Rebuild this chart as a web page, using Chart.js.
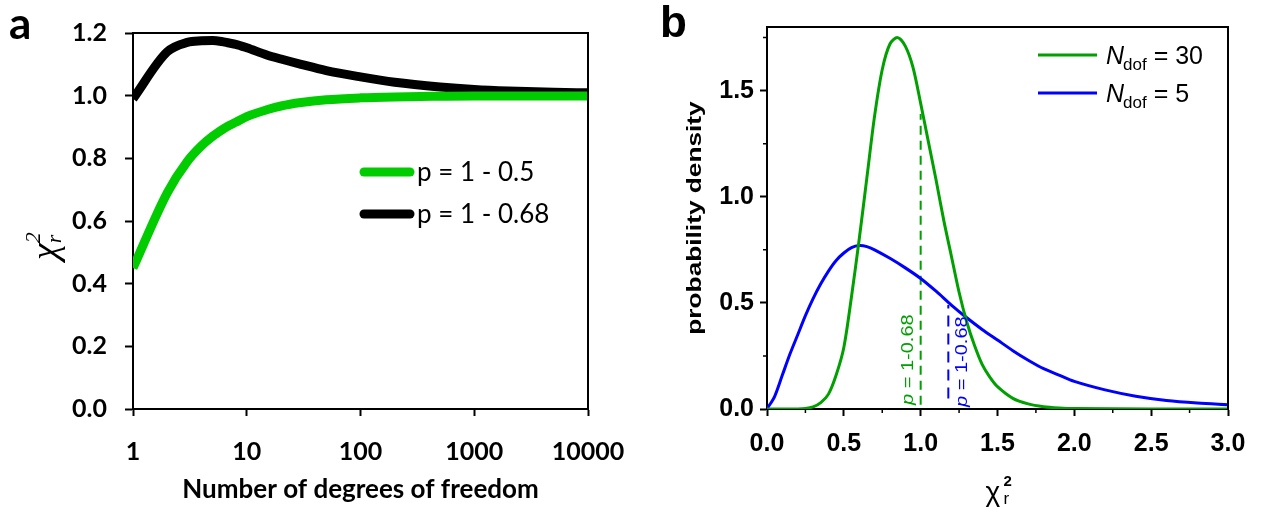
<!DOCTYPE html>
<html>
<head>
<meta charset="utf-8">
<script src="https://cdn.jsdelivr.net/npm/chart.js@4.4.0/dist/chart.umd.min.js"></script>
<style>
  body { margin: 0; background: #fff; width: 1264px; height: 509px; position: relative; overflow: hidden; }
  .panel { position: absolute; top: 0; height: 509px; }
  #wrapA { left: 0; width: 670px; }
  #wrapB { left: 640px; width: 624px; }
</style>
</head>
<body>
<div class="panel" id="wrapA"><canvas id="chartA"></canvas></div>
<div class="panel" id="wrapB"><canvas id="chartB"></canvas></div>
<script>
// --- data, panel a: reduced chi-square vs. degrees of freedom ---
const dofValues = [1, 2, 3, 4, 5, 6, 7, 8, 10, 15, 20, 30, 50, 100, 200, 500, 1000, 2000, 5000, 10000];
const chiHalf   = [0.45, 0.69, 0.79, 0.84, 0.87, 0.89, 0.905, 0.915, 0.933, 0.955, 0.967, 0.978, 0.987, 0.993, 0.996, 0.998, 0.999, 0.999, 0.999, 0.999];
const chi68     = [0.99, 1.14, 1.17, 1.175, 1.176, 1.173, 1.168, 1.164, 1.153, 1.13, 1.117, 1.10, 1.08, 1.06, 1.043, 1.028, 1.02, 1.015, 1.011, 1.009];
const dofTicks  = [1, 10, 100, 1000, 10000];
const labelsA   = ['p = 1 - 0.5', 'p = 1 - 0.68'];

// --- data, panel b: probability density of reduced chi-square ---
const n30X = [0, 0.1, 0.2, 0.25, 0.3, 0.35, 0.4, 0.45, 0.5, 0.55, 0.6, 0.65, 0.7, 0.75, 0.8, 0.85, 0.9, 0.95, 1.0, 1.05, 1.1, 1.15, 1.2, 1.25, 1.3, 1.35, 1.4, 1.45, 1.5, 1.6, 1.7, 1.8, 1.9, 2.0, 2.5, 3.0];
const n30Y = [0, 0, 0, 0.002, 0.01, 0.03, 0.07, 0.16, 0.29, 0.53, 0.80, 1.09, 1.38, 1.60, 1.72, 1.75, 1.71, 1.61, 1.44, 1.26, 1.08, 0.89, 0.72, 0.55, 0.41, 0.30, 0.21, 0.15, 0.105, 0.05, 0.024, 0.011, 0.005, 0.002, 0, 0];
const n5X  = [0, 0.05, 0.1, 0.15, 0.2, 0.25, 0.3, 0.35, 0.4, 0.45, 0.5, 0.55, 0.6, 0.65, 0.7, 0.8, 0.9, 1.0, 1.1, 1.2, 1.3, 1.4, 1.5, 1.6, 1.7, 1.8, 1.9, 2.0, 2.2, 2.4, 2.6, 2.8, 3.0];
const n5Y  = [0, 0.06, 0.16, 0.26, 0.35, 0.44, 0.52, 0.59, 0.65, 0.70, 0.735, 0.76, 0.77, 0.765, 0.75, 0.71, 0.665, 0.615, 0.555, 0.49, 0.43, 0.375, 0.325, 0.275, 0.23, 0.19, 0.16, 0.13, 0.09, 0.06, 0.04, 0.028, 0.02];
const cut30X = [1.0, 1.0];
const cut30Y = [0.02, 1.39];
const cut5X  = [1.18, 1.18];
const cut5Y  = [0.05, 0.49];
const labelsB = ['30', '5'];

const pts = (xs, ys) => xs.map((x, i) => ({ x: x, y: ys[i] }));

const GREEN_A = '#00cc00';
const GREEN_B = '#00a000';
const BLUE_B = '#0000ff';

// --- panel a ---
const frameA = {
  id: 'frameA',
  afterDraw(chart) {
    const c = chart.ctx, a = chart.chartArea;
    c.save();
    c.strokeStyle = '#000';
    c.lineWidth = 2;
    c.beginPath();
    c.moveTo(a.left, a.top); c.lineTo(a.right, a.top); c.lineTo(a.right, a.bottom);
    c.stroke();

    // panel tag
    c.fillStyle = '#000';
    c.font = 'bold 44px Lato';
    c.textBaseline = 'alphabetic';
    c.fillText('a', 9, 39);

    // legend
    const colors = [GREEN_A, '#000'];
    const ys = [172, 214];
    c.lineCap = 'round';
    c.lineWidth = 9;
    c.font = '26px Lato';
    c.textBaseline = 'middle';
    labelsA.forEach((lab, i) => {
      c.strokeStyle = colors[i];
      c.beginPath(); c.moveTo(364, ys[i]); c.lineTo(410, ys[i]); c.stroke();
      c.fillText(lab, 417, ys[i] + 1);
    });

    // y title chi^2_r
    c.translate(44, 236);
    c.rotate(-Math.PI / 2);
    c.font = 'italic 38px "Liberation Serif"';
    c.textBaseline = 'middle';
    c.fillText('\u03C7', -24, 3);
    const w = c.measureText('\u03C7').width;
    c.font = 'italic 22px "Liberation Serif"';
    c.fillText('2', -24 + w, -10);
    c.fillText('r', -24 + w, 11);
    c.restore();
  }
};

new Chart(document.getElementById('chartA'), {
  type: 'line',
  data: {
    datasets: [
      { label: labelsA[0], data: pts(dofValues, chiHalf), borderColor: GREEN_A, borderWidth: 9, cubicInterpolationMode: 'monotone', pointRadius: 0, clip: 0 },
      { label: labelsA[1], data: pts(dofValues, chi68), borderColor: '#000', borderWidth: 9, cubicInterpolationMode: 'monotone', pointRadius: 0, clip: 0 }
    ]
  },
  options: {
    responsive: true,
    maintainAspectRatio: false,
    animation: false,
    layout: { padding: { left: 0, top: 32, right: 82, bottom: 0 } },
    plugins: { legend: { display: false }, tooltip: { enabled: false } },
    scales: {
      x: {
        type: 'logarithmic',
        min: 1, max: 10000,
        afterBuildTicks: s => { s.ticks = dofTicks.map(v => ({ value: v })); },
        afterFit: s => { s.height = 100; },
        border: { color: '#000', width: 2 },
        grid: { drawOnChartArea: false, tickLength: 7, tickColor: '#000', tickWidth: 2 },
        ticks: { color: '#000', font: { family: 'Lato', weight: 'bold', size: 25 }, padding: 21, maxRotation: 0,
                 callback: v => String(v) },
        title: { display: true, text: 'Number of degrees of freedom', color: '#000',
                 font: { family: 'Lato', weight: 'bold', size: 26 }, padding: { top: 8 } }
      },
      y: {
        min: 0, max: 1.2,
        afterFit: s => { s.width = 133; },
        border: { color: '#000', width: 2 },
        grid: { drawOnChartArea: false, tickLength: 8, tickColor: '#000', tickWidth: 2 },
        ticks: { stepSize: 0.2, color: '#000', font: { family: 'Lato', weight: 'bold', size: 25 }, padding: 18,
                 callback: v => v.toFixed(1) }
      }
    }
  },
  plugins: [frameA]
});

// --- panel b ---
function drawP(c, x, y, color) {
  // rotated "p = 1-0.68", reading upward, starting at (x, y)
  c.save();
  c.translate(x, y);
  c.rotate(-Math.PI / 2);
  c.scale(1.25, 1);
  c.fillStyle = color;
  c.textBaseline = 'middle';
  c.font = 'italic 16px "Liberation Sans"';
  c.fillText('p', 0, 0);
  const w = c.measureText('p').width;
  c.font = '16px "Liberation Sans"';
  c.fillText(' = 1-0.68', w, 0);
  c.restore();
}

const frameB = {
  id: 'frameB',
  afterDraw(chart) {
    const c = chart.ctx, a = chart.chartArea;
    const xs = chart.scales.x, ys = chart.scales.y;
    c.save();
    c.strokeStyle = '#000';
    c.lineWidth = 2;
    c.beginPath();
    c.moveTo(a.left, a.top); c.lineTo(a.right, a.top); c.lineTo(a.right, a.bottom);
    c.stroke();

    // minor ticks
    c.lineWidth = 1.5;
    c.beginPath();
    for (let v = 0.25; v < 3; v += 0.5) {
      const px = xs.getPixelForValue(v);
      c.moveTo(px, a.bottom); c.lineTo(px, a.bottom + 4);
    }
    for (let v = 0.25; v < 1.8; v += 0.5) {
      const py = ys.getPixelForValue(v);
      c.moveTo(a.left, py); c.lineTo(a.left - 4, py);
    }
    c.stroke();

    // panel tag
    c.fillStyle = '#000';
    c.font = 'bold 44px "Liberation Sans"';
    c.textBaseline = 'alphabetic';
    c.fillText('b', 20, 37);

    // legend
    const colors = [GREEN_B, BLUE_B];
    const ly = [55, 93];
    c.lineWidth = 3;
    labelsB.forEach((lab, i) => {
      c.strokeStyle = colors[i];
      c.beginPath(); c.moveTo(398, ly[i]); c.lineTo(457, ly[i]); c.stroke();
      c.fillStyle = '#000';
      c.textBaseline = 'alphabetic';
      let x = 466;
      c.font = 'italic 25px "Liberation Sans"';
      c.fillText('N', x, ly[i] + 9);
      x += c.measureText('N').width - 1;
      c.font = '17px "Liberation Sans"';
      c.fillText('dof', x, ly[i] + 15);
      x += c.measureText('dof').width;
      c.font = '25px "Liberation Sans"';
      c.fillText(' = ' + lab, x, ly[i] + 9);
    });

    // annotations at the cut lines
    const y0 = ys.getPixelForValue(0) - 4;
    drawP(c, xs.getPixelForValue(cut30X[0]) - 12, y0, GREEN_B);
    drawP(c, xs.getPixelForValue(cut5X[0]) + 14, y0 + 2, BLUE_B);

    // y title (text stretched along its direction)
    c.save();
    c.translate(55, 218);
    c.rotate(-Math.PI / 2);
    c.scale(1.25, 1);
    c.font = 'bold 21px "Liberation Sans"';
    c.textAlign = 'center';
    c.textBaseline = 'middle';
    c.fillText('probability density', 0, 0);
    c.restore();

    // x title chi^2_r
    const cx = (a.left + a.right) / 2;
    c.font = '28px "Liberation Sans"';
    c.textBaseline = 'alphabetic';
    c.fillText('\u03C7', cx - 12, 501);
    c.font = 'bold 15px "Liberation Sans"';
    c.fillText('2', cx + 6, 486);
    c.font = '17px "Liberation Sans"';
    c.fillText('r', cx + 6, 504);
    c.restore();
  }
};

new Chart(document.getElementById('chartB'), {
  type: 'line',
  data: {
    datasets: [
      { label: 'N30', data: pts(n30X, n30Y), borderColor: GREEN_B, borderWidth: 3, tension: 0.3, pointRadius: 0 },
      { label: 'N5', data: pts(n5X, n5Y), borderColor: BLUE_B, borderWidth: 3, tension: 0.3, pointRadius: 0 },
      { label: 'cut30', data: pts(cut30X, cut30Y), borderColor: GREEN_B, borderWidth: 2, borderDash: [9, 6], pointRadius: 0 },
      { label: 'cut5', data: pts(cut5X, cut5Y), borderColor: BLUE_B, borderWidth: 2, borderDash: [11, 7], pointRadius: 0 }
    ]
  },
  options: {
    responsive: true,
    maintainAspectRatio: false,
    animation: false,
    layout: { padding: { left: 0, top: 27, right: 36, bottom: 0 } },
    plugins: { legend: { display: false }, tooltip: { enabled: false } },
    scales: {
      x: {
        type: 'linear',
        min: 0, max: 3,
        afterFit: s => { s.height = 100; },
        border: { color: '#000', width: 2 },
        grid: { drawOnChartArea: false, tickLength: 7, tickColor: '#000', tickWidth: 2 },
        ticks: { stepSize: 0.5, color: '#000', font: { family: 'Liberation Sans', weight: 'bold', size: 25 }, padding: 13, maxRotation: 0,
                 callback: v => v.toFixed(1) }
      },
      y: {
        min: 0, max: 1.8,
        afterFit: s => { s.width = 127; },
        afterBuildTicks: s => { s.ticks = s.ticks.filter(t => Math.abs(t.value * 2 - Math.round(t.value * 2)) < 1e-6); },
        border: { color: '#000', width: 2 },
        grid: { drawOnChartArea: false, tickLength: 7, tickColor: '#000', tickWidth: 2 },
        ticks: { stepSize: 0.5, color: '#000', font: { family: 'Liberation Sans', weight: 'bold', size: 25 }, padding: 6,
                 callback: v => v.toFixed(1) }
      }
    }
  },
  plugins: [frameB]
});
</script>
</body>
</html>
